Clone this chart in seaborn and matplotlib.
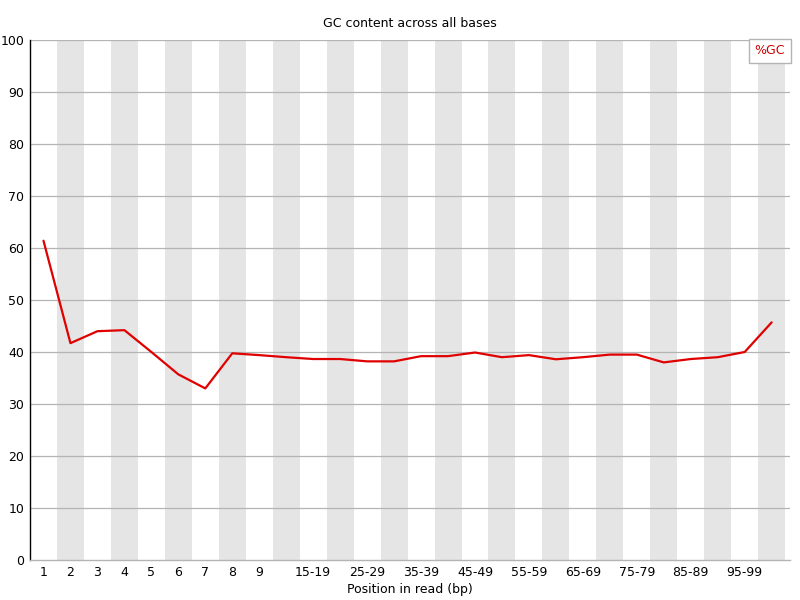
import seaborn as sns
import matplotlib.pyplot as plt
import pandas as pd

import warnings
warnings.filterwarnings('ignore')

# positions in read (bp), grouped after 9 like FastQC does
positions = ['1', '2', '3', '4', '5', '6', '7', '8', '9',
             '10-14', '15-19', '20-24', '25-29', '30-34', '35-39', '40-44',
             '45-49', '50-54', '55-59', '60-64', '65-69', '70-74', '75-79',
             '80-84', '85-89', '90-94', '95-99', '100-101']

gc_percent = [61.4, 41.7, 44.0, 44.2, 40.0, 35.7, 33.0, 39.75, 39.4, 39.0,
              38.65, 38.65, 38.2, 38.2, 39.2, 39.2, 39.9, 39.0, 39.4, 38.6,
              39.0, 39.5, 39.5, 38.0, 38.65, 39.0, 40.0, 45.7]

shown_labels = positions[:9] + positions[10::2][:9]

sns.set_style("white")
plt.rcParams['font.family'] = ['DejaVu Sans']
plt.rcParams['text.color'] = 'black'
plt.rcParams['xtick.color'] = 'black'
plt.rcParams['ytick.color'] = 'black'
plt.rcParams['axes.labelcolor'] = 'black'

df = pd.DataFrame({"pos": range(len(positions)), "gc": gc_percent})

fig = plt.figure(figsize=(8, 6), dpi=100)
ax = fig.add_axes([30 / 800, 40 / 600, 760 / 800, 520 / 600])

# alternating grey bands
for i in range(len(positions)):
    if i % 2 == 1:
        ax.axvspan(i - 0.5, i + 0.5, color='#e5e5e5', lw=0, zorder=0)

for v in range(10, 101, 10):
    ax.axhline(v, color='#b4b4b4', lw=0.9, zorder=1)

sns.lineplot(data=df, x="pos", y="gc", color='#e00000', lw=1.6, ax=ax, zorder=3)

ax.set_xlim(-0.5, 27.68)
ax.set_ylim(0, 100)
ax.set_yticks(range(0, 101, 10))
ax.set_yticklabels([str(v) for v in range(0, 101, 10)], fontsize=9)
ticks = list(range(9)) + list(range(10, 27, 2))
ax.set_xticks(ticks)
ax.set_xticklabels(shown_labels, fontsize=9)
ax.tick_params(axis='both', length=0, pad=4)
ax.set_xlabel("Position in read (bp)", fontsize=9, labelpad=3)
ax.set_ylabel("")

for s in ['top', 'right']:
    ax.spines[s].set_visible(False)
ax.spines['left'].set_color('black')
ax.spines['left'].set_linewidth(1)
ax.spines['bottom'].set_color('#b4b4b4')
ax.spines['bottom'].set_linewidth(1)

ax.text(0.5, 1.02, "GC content across all bases", transform=ax.transAxes,
        ha='center', va='bottom', fontsize=9)

ax.text(0.9935, 0.9915, "%GC", transform=ax.transAxes, ha='right', va='top',
        color='#d00000', fontsize=9, zorder=5,
        bbox=dict(boxstyle='square,pad=0.45', fc='white', ec='#b4b4b4', lw=1))

fig.savefig("out.png", dpi=100)
